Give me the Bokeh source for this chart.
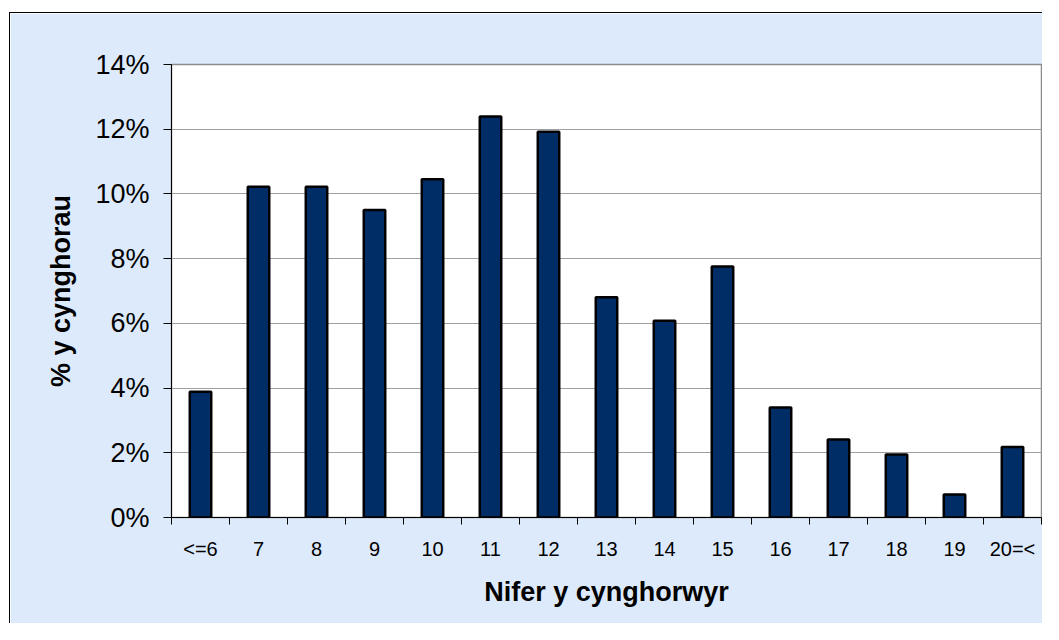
from bokeh.plotting import figure
from bokeh.models import FixedTicker, PrintfTickFormatter, Range1d
from bokeh.embed import file_html
from bokeh.resources import INLINE

# ---- data ----
categories = ["<=6", "7", "8", "9", "10", "11", "12", "13", "14", "15",
              "16", "17", "18", "19", "20=<"]
values = [3.89, 10.22, 10.22, 9.50, 10.45, 12.39, 11.92, 6.81, 6.08, 7.76,
          3.40, 2.41, 1.95, 0.71, 2.18]
y_ticks = [0, 2, 4, 6, 8, 10, 12, 14]
x_title = "Nifer y cynghorwyr"
y_title = "% y cynghorau"

xs = [i + 1 for i in range(len(categories))]
FONT = "Liberation Sans"
BG = "#DDEAFC"

p = figure(width=1033, height=611,
           x_range=Range1d(0.5, len(categories) + 0.5),
           y_range=Range1d(y_ticks[0], y_ticks[-1]),
           output_backend="svg", toolbar_location=None,
           min_border_left=161, min_border_right=2,
           min_border_top=51, min_border_bottom=107)
p.margin = (12, 0, 0, 9)
p.styles = {"border-left": "1px solid black", "border-top": "1px solid black"}

p.background_fill_color = "white"
p.border_fill_color = BG
p.outline_line_color = "#8C8C8C"
p.outline_line_width = 1.5

p.vbar(x=xs, top=values, width=0.37, bottom=0,
       fill_color="#002D66", line_color="black", line_width=2.5)

# x axis
p.xaxis.ticker = FixedTicker(ticks=xs, minor_ticks=[x - 0.5 for x in xs] + [xs[-1] + 0.5])
p.xaxis.major_label_overrides = {x: c for x, c in zip(xs, categories)}
p.xaxis.major_tick_out = 0
p.xaxis.major_tick_in = 0
p.xaxis.minor_tick_out = 7
p.xaxis.minor_tick_in = 0
p.xaxis.minor_tick_line_color = "black"
p.xaxis.axis_line_color = "black"
p.xaxis.major_label_text_font = FONT
p.xaxis.major_label_text_font_size = "20px"
p.xaxis.major_label_text_color = "black"
p.xaxis.major_label_standoff = 13
p.xaxis.axis_label = x_title
p.xaxis.axis_label_text_font = FONT
p.xaxis.axis_label_text_font_style = "bold"
p.xaxis.axis_label_text_font_size = "27px"
p.xaxis.axis_label_text_color = "black"
p.xaxis.axis_label_standoff = 14

# y axis
p.yaxis.ticker = FixedTicker(ticks=y_ticks)
p.yaxis.formatter = PrintfTickFormatter(format="%d%%")
p.yaxis.major_tick_out = 8
p.yaxis.major_tick_in = 0
p.yaxis.minor_tick_line_color = None
p.yaxis.axis_line_color = "black"
p.yaxis.major_label_text_font = FONT
p.yaxis.major_label_text_font_size = "27px"
p.yaxis.major_label_text_color = "black"
p.yaxis.major_label_standoff = 14
p.yaxis.axis_label = y_title
p.yaxis.axis_label_text_font = FONT
p.yaxis.axis_label_text_font_style = "bold"
p.yaxis.axis_label_text_font_size = "27px"
p.yaxis.axis_label_text_color = "black"
p.yaxis.axis_label_standoff = 16

p.xgrid.visible = False
p.ygrid.grid_line_color = "#A0A0A0"
p.ygrid.grid_line_width = 1

open("out.html", "w").write(file_html(p, INLINE))
